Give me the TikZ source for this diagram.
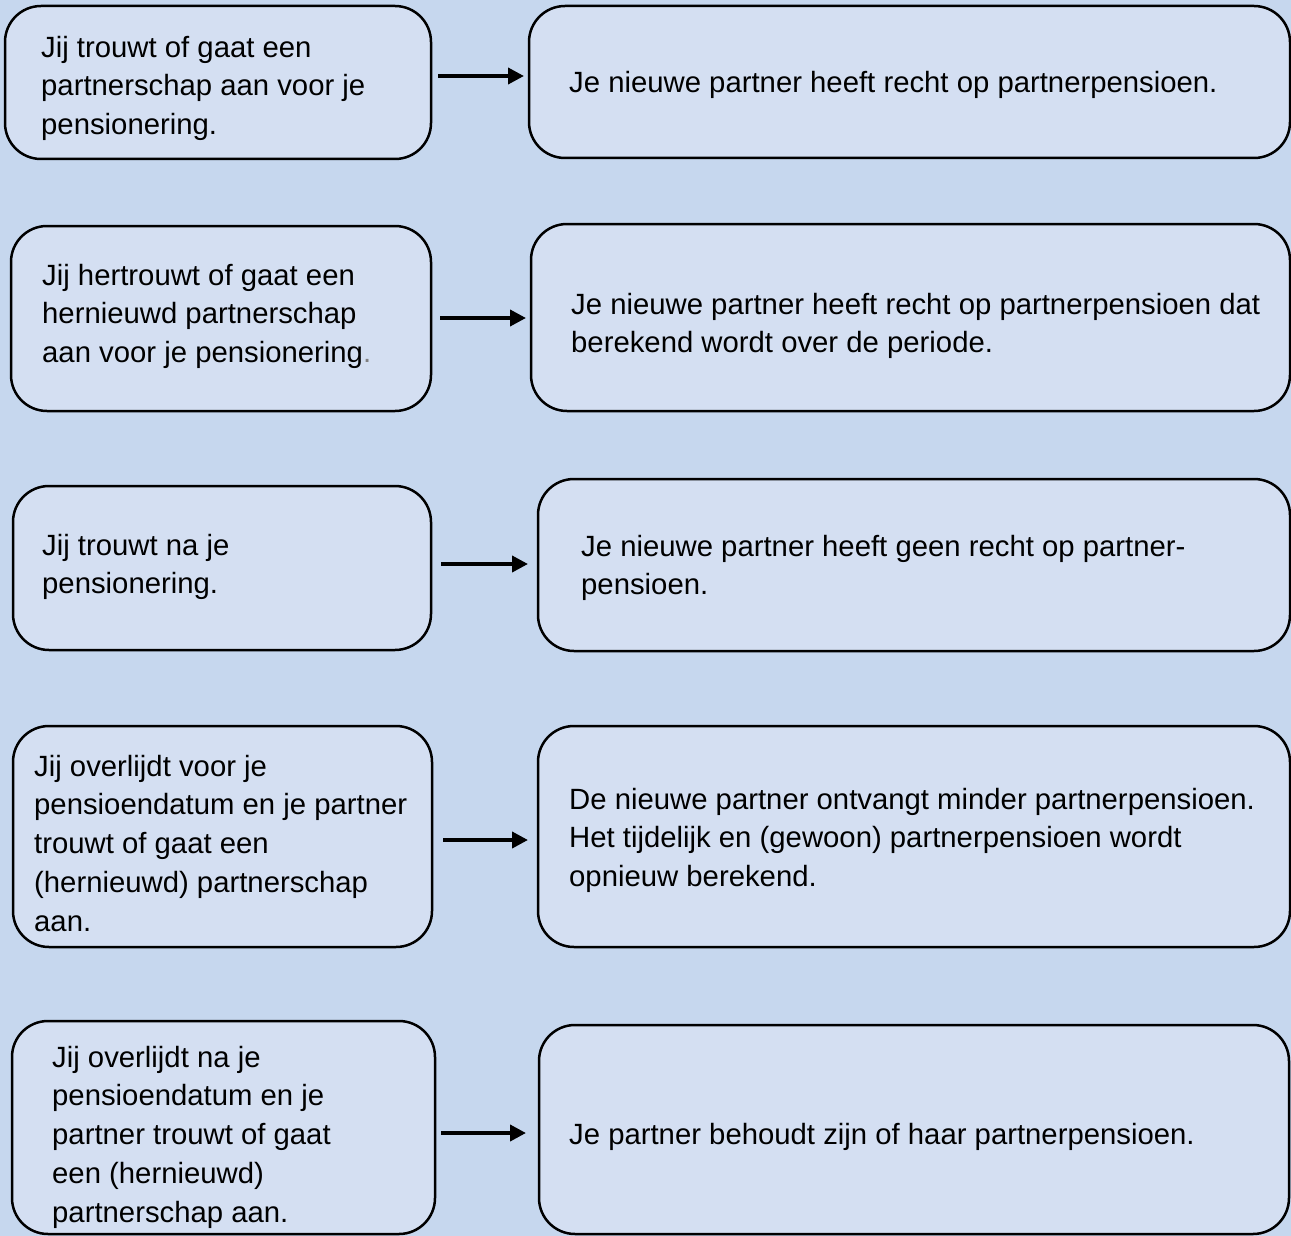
\documentclass[tikz,border=0pt]{standalone}
\usepackage{fontspec}
\setmainfont{Liberation Sans}
\usetikzlibrary{arrows.meta}
\definecolor{bgblue}{RGB}{198,215,238}
\definecolor{boxblue}{RGB}{212,223,242}
\tikzset{
  box/.style={draw=black, line width=2.5pt, fill=boxblue, rounded corners=36pt, inner sep=0pt, outer sep=0pt},
  txt/.style={anchor=north west, inner sep=0pt, align=left, font=\fontsize{29.3}{38.8}\selectfont},
  arr/.style={line width=3.8pt, -{Triangle[length=16pt,width=16pt]}}
}
\begin{document}
\begin{tikzpicture}[x=1pt,y=-1pt]
\fill[bgblue] (0,0) rectangle (1291,1236);
\useasboundingbox (0,0) rectangle (1291,1236);
% boxes
\node[box, minimum width=426, minimum height=153] (l1) at (218,82.5) {};
\node[box, minimum width=761, minimum height=152] (r1) at (909.5,82) {};
\node[box, minimum width=420, minimum height=185] (l2) at (221,318.5) {};
\node[box, minimum width=759, minimum height=187] (r2) at (910.5,317.5) {};
\node[box, minimum width=418, minimum height=164] (l3) at (222,568) {};
\node[box, minimum width=752, minimum height=172] (r3) at (914,565) {};
\node[box, minimum width=419, minimum height=221] (l4) at (222.5,836.5) {};
\node[box, minimum width=752, minimum height=221] (r4) at (914,836.5) {};
\node[box, minimum width=423, minimum height=213] (l5) at (223.5,1127.5) {};
\node[box, minimum width=750, minimum height=209] (r5) at (914,1129.5) {};
% texts
\node[txt] (t1) at (41,29.8) {\strut Jij trouwt of gaat een\\partnerschap aan voor je\\pensionering.};
\node[txt] (u1) at (569,64.8) {\strut Je nieuwe partner heeft recht op partnerpensioen.};
\node[txt] (t2) at (42,257.8) {\strut Jij hertrouwt of gaat een\\hernieuwd partnerschap\\aan voor je pensionering{\color{gray}.}};
\node[txt] (u2) at (571,286.8) {\strut Je nieuwe partner heeft recht op partnerpensioen dat\\berekend wordt over de periode.};
\node[txt] (t3) at (42,527.8) {\strut Jij trouwt na je\\pensionering.};
\node[txt] (u3) at (581,528.8) {\strut Je nieuwe partner heeft geen recht op partner-\\pensioen.};
\node[txt] (t4) at (34,748.8) {\strut Jij overlijdt voor je\\pensioendatum en je partner\\trouwt of gaat een\\(hernieuwd) partnerschap\\aan.};
\node[txt] (u4) at (569,781.8) {\strut De nieuwe partner ontvangt minder partnerpensioen.\\Het tijdelijk en (gewoon) partnerpensioen wordt\\opnieuw berekend.};
\node[txt] (t5) at (52,1039.8) {\strut Jij overlijdt na je\\pensioendatum en je\\partner trouwt of gaat\\een (hernieuwd)\\partnerschap aan.};
\node[txt] (u5) at (569,1116.8) {\strut Je partner behoudt zijn of haar partnerpensioen.};
% arrows
\draw[arr] ([xshift=7pt,yshift=6.5pt]l1.east) -- ([xshift=-5pt,yshift=6pt]r1.west);
\draw[arr] ([xshift=9pt,yshift=0.5pt]l2.east) -- ([xshift=-5pt,yshift=-0.5pt]r2.west);
\draw[arr] ([xshift=10pt,yshift=4pt]l3.east) -- ([xshift=-10pt,yshift=1pt]r3.west);
\draw[arr] ([xshift=11pt,yshift=-3.5pt]l4.east) -- ([xshift=-10pt,yshift=-3.5pt]r4.west);
\draw[arr] ([xshift=6pt,yshift=-5.5pt]l5.east) -- ([xshift=-13pt,yshift=-3.5pt]r5.west);
\end{tikzpicture}
\end{document}
